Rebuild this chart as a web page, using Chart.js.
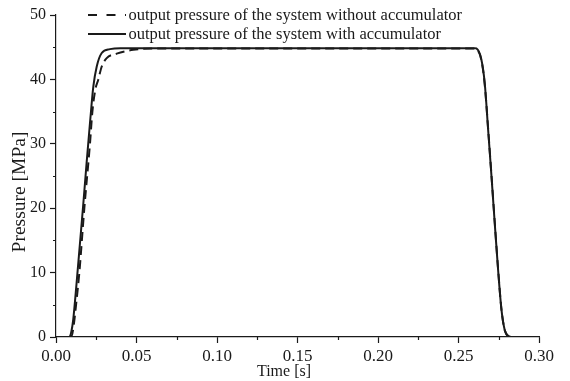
<!DOCTYPE html>
<html>
<head>
<meta charset="utf-8">
<script src="https://cdn.jsdelivr.net/npm/chart.js@4.4.1/dist/chart.umd.min.js"></script>
<style>
  body { margin: 0; background: #fff; }
  #wrap { width: 570px; height: 381px; }
</style>
</head>
<body>
<div id="wrap"><canvas id="chart" width="570" height="381"></canvas></div>
<script>
// output pressure without accumulator: time [s], pressure [MPa]
const timeNoAcc = [0, 0.0095, 0.0110, 0.0128, 0.0145, 0.0176, 0.0211, 0.0226, 0.0245, 0.0263, 0.0284, 0.0315,
  0.0377, 0.0480, 0.0600, 0.2600, 0.2612, 0.2642, 0.2663, 0.2685, 0.2706, 0.2726, 0.2747, 0.2768, 0.2788, 0.2812, 0.2830, 0.3000];
const pressureNoAcc = [0, 0, 1.8, 5.8, 10.0, 20.0, 30.0, 35.0, 38.5, 40.0, 42.0, 43.3,
  44.0, 44.6, 44.8, 44.8, 44.7, 43.0, 39.2, 32.0, 24.7, 17.5, 10.2, 4.0, 1.0, 0.1, 0, 0];

// output pressure with accumulator
const timeAcc = [0, 0.0083, 0.0095, 0.0107, 0.0128, 0.0149, 0.0170, 0.0190, 0.0211, 0.0232, 0.0253, 0.0284,
  0.0335, 0.0400, 0.2600, 0.2611, 0.2642, 0.2663, 0.2684, 0.2705, 0.2725, 0.2746, 0.2767, 0.2787, 0.2812, 0.2830, 0.3000];
const pressureAcc = [0, 0, 0.8, 2.7, 8.4, 14.6, 20.8, 27.0, 33.2, 38.9, 42.0, 44.1,
  44.7, 44.85, 44.85, 44.8, 43.1, 39.4, 32.2, 24.9, 17.7, 10.4, 4.2, 1.1, 0.1, 0, 0];

const seriesLabels = [
  'output pressure of the system without accumulator',
  'output pressure of the system with accumulator'
];

const xTickValues = [0, 0.05, 0.10, 0.15, 0.20, 0.25, 0.30];
const xMinorTicks = [0.025, 0.075, 0.125, 0.175, 0.225, 0.275];
const yTickValues = [0, 10, 20, 30, 40, 50];
const yMinorTicks = [5, 15, 25, 35, 45];

const FONT = '"Liberation Serif", "Times New Roman", serif';
const INK = '#1a1a1a';

const toPoints = (xs, ys) => xs.map((x, i) => ({ x: x, y: ys[i] }));

// minor ticks, axis titles and the legend block in the top-left corner
const decorations = {
  id: 'decorations',
  afterDraw(chart) {
    const { ctx, chartArea, scales } = chart;
    ctx.save();
    ctx.strokeStyle = INK;
    ctx.lineWidth = 1.2;
    ctx.beginPath();
    xMinorTicks.forEach(v => {
      const px = Math.round(scales.x.getPixelForValue(v)) + 0.5;
      ctx.moveTo(px, chartArea.bottom);
      ctx.lineTo(px, chartArea.bottom + 3);
    });
    yMinorTicks.forEach(v => {
      const py = Math.round(scales.y.getPixelForValue(v)) + 0.5;
      ctx.moveTo(chartArea.left, py);
      ctx.lineTo(chartArea.left - 3, py);
    });
    ctx.stroke();

    ctx.fillStyle = INK;
    ctx.textAlign = 'center';
    ctx.textBaseline = 'alphabetic';
    ctx.font = '16px ' + FONT;
    ctx.fillText('Time [s]', 284, 376);

    ctx.save();
    ctx.translate(20, 192);
    ctx.rotate(-Math.PI / 2);
    ctx.textBaseline = 'middle';
    ctx.font = '19.5px ' + FONT;
    ctx.fillText('Pressure [MPa]', 0, 0);
    ctx.restore();

    // legend rows
    const rows = [{ y: 15, base: 19.5 }, { y: 34, base: 38.5 }];
    ctx.textAlign = 'left';
    ctx.textBaseline = 'alphabetic';
    ctx.font = '16.5px ' + FONT;
    chart.data.datasets.forEach((ds, i) => {
      const r = rows[i];
      ctx.save();
      ctx.strokeStyle = ds.borderColor;
      ctx.lineWidth = 2;
      ctx.setLineDash(ds.borderDash && ds.borderDash.length ? [9, 9.5] : []);
      ctx.beginPath();
      ctx.moveTo(88, r.y);
      ctx.lineTo(126, r.y);
      ctx.stroke();
      ctx.restore();
      ctx.fillText(ds.label, 128.5, r.base);
    });
    ctx.restore();
  }
};

new Chart(document.getElementById('chart'), {
  type: 'line',
  data: {
    datasets: [
      {
        label: seriesLabels[0],
        data: toPoints(timeNoAcc, pressureNoAcc),
        borderColor: INK,
        borderWidth: 2,
        borderDash: [9, 5],
        pointRadius: 0,
        cubicInterpolationMode: 'monotone',
        order: 1
      },
      {
        label: seriesLabels[1],
        data: toPoints(timeAcc, pressureAcc),
        borderColor: INK,
        borderWidth: 2,
        pointRadius: 0,
        cubicInterpolationMode: 'monotone',
        order: 0
      }
    ]
  },
  options: {
    responsive: false,
    animation: false,
    layout: { padding: { top: 15, right: 31, left: 0, bottom: 0 } },
    plugins: {
      legend: { display: false },
      tooltip: { enabled: false }
    },
    scales: {
      x: {
        type: 'linear',
        min: 0,
        max: 0.3,
        afterBuildTicks: s => { s.ticks = xTickValues.map(v => ({ value: v })); },
        afterFit: s => { s.height = 44; },
        border: { display: true, color: INK, width: 1.2 },
        grid: { drawOnChartArea: false, tickLength: 6, tickColor: INK, tickWidth: 1.2 },
        ticks: {
          color: INK,
          padding: 3,
          maxRotation: 0,
          font: { family: FONT, size: 17 },
          callback: v => v.toFixed(2)
        }
      },
      y: {
        min: 0,
        max: 50,
        afterBuildTicks: s => { s.ticks = yTickValues.map(v => ({ value: v })); },
        afterFit: s => { s.width = 56; },
        border: { display: true, color: INK, width: 1.2 },
        grid: { drawOnChartArea: false, tickLength: 6, tickColor: INK, tickWidth: 1.2 },
        ticks: {
          color: INK,
          padding: 4,
          font: { family: FONT, size: 16 },
          callback: v => String(v)
        }
      }
    }
  },
  plugins: [decorations]
});
</script>
</body>
</html>
